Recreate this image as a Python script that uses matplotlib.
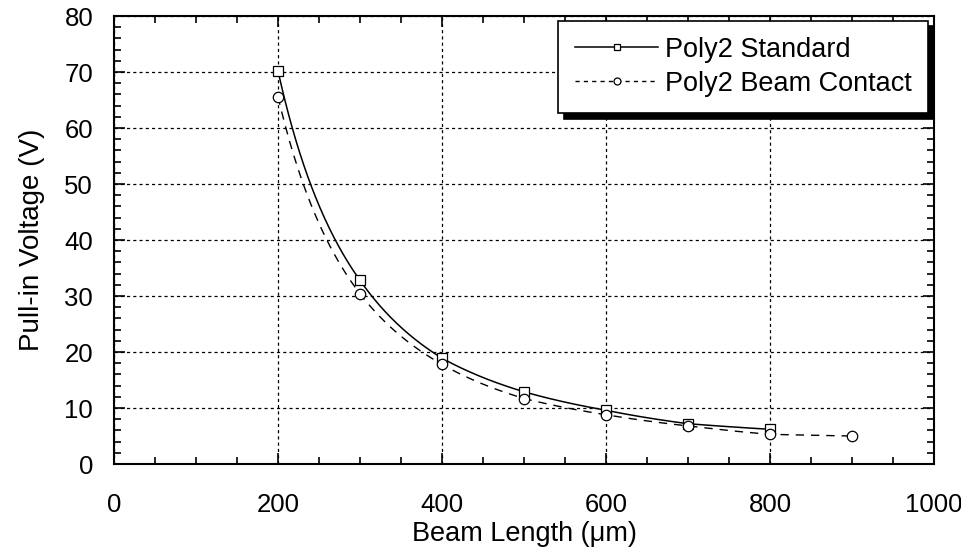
import numpy as np
import matplotlib
matplotlib.use("Agg")
import matplotlib.pyplot as plt
from matplotlib.lines import Line2D
from matplotlib.ticker import MultipleLocator

plt.rcParams['font.family'] = ['Liberation Sans', 'DejaVu Sans']

# beam lengths (um) and pull-in voltages (V)
length_std = [200, 300, 400, 500, 600, 700, 800]
volt_std = [70.2, 32.8, 18.9, 12.9, 9.6, 7.2, 6.2]

length_bc = [200, 300, 400, 500, 600, 700, 800, 900]
volt_bc = [65.6, 30.4, 17.8, 11.7, 8.8, 6.8, 5.3, 5.0]

labels = ["Poly2 Standard", "Poly2 Beam Contact"]


def smooth_path(x, y, n=400):
    # draw the connecting curve as piecewise power law (straight in log-log)
    lx, ly = np.log(x), np.log(y)
    xs = np.linspace(lx[0], lx[-1], n)
    return np.exp(xs), np.exp(np.interp(xs, lx, ly))


fig = plt.figure(figsize=(9.62, 5.59), dpi=100)
ax = fig.add_axes([0.1185, 0.1699, 0.8524, 0.8014])

sx, sy = smooth_path(length_std, volt_std)
ax.plot(sx, sy, color='black', lw=1.1, ls='-', zorder=3)
ax.plot(length_std, volt_std, ls='none', marker='s', ms=7.5, mfc='white',
        mec='black', mew=0.9, zorder=4)

bx, by = smooth_path(length_bc, volt_bc)
ax.plot(bx, by, color='black', lw=1.0, ls=(0, (6, 5)), zorder=3)
ax.plot(length_bc, volt_bc, ls='none', marker='o', ms=7.5, mfc='white',
        mec='black', mew=0.9, zorder=4)

ax.set_xlim(0, 1000)
ax.set_ylim(0, 80)
ax.xaxis.set_major_locator(MultipleLocator(200))
ax.xaxis.set_minor_locator(MultipleLocator(50))
ax.yaxis.set_major_locator(MultipleLocator(10))
ax.yaxis.set_minor_locator(MultipleLocator(2))
ax.tick_params(which='both', direction='in', top=True, right=True, width=1.2)
ax.tick_params(which='major', length=8, labelsize=18.5)
ax.tick_params(axis='x', which='major', pad=21)
ax.tick_params(axis='y', which='major', pad=15)
ax.tick_params(which='minor', length=5)
for sp in ax.spines.values():
    sp.set_linewidth(1.5)

ax.grid(True, which='major', color='black', ls=(0, (2.5, 2.5)), lw=0.9)

ax.set_xlabel("Beam Length (\u03bcm)", fontsize=19.5, labelpad=3)
ax.set_ylabel("Pull-in Voltage (V)", fontsize=20, labelpad=14)

handles = [
    Line2D([], [], color='black', lw=1.1, ls='-', marker='s', ms=5,
           mfc='white', mec='black', mew=0.9),
    Line2D([], [], color='black', lw=1.0, ls=(0, (3, 3)), marker='o', ms=5,
           mfc='white', mec='black', mew=0.9),
]
leg = ax.legend(handles, labels, loc='upper right', bbox_to_anchor=(0.993, 0.99),
                fontsize=19.5, numpoints=1, handlelength=3.1, handletextpad=0.25,
                fancybox=False, framealpha=1, edgecolor='black',
                borderaxespad=0, borderpad=0.6, labelspacing=0.3,
                shadow={'color': 'black', 'alpha': 1, 'ox': 4, 'oy': -4})
leg.get_frame().set_linewidth(1.2)

fig.savefig("out.png", dpi=100)
